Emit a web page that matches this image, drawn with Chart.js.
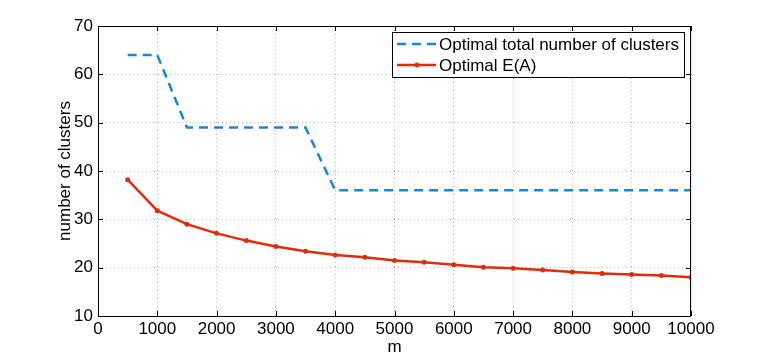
<!DOCTYPE html>
<html>
<head>
<meta charset="utf-8">
<script src="https://cdn.jsdelivr.net/npm/chart.js@4.4.0/dist/chart.umd.min.js"></script>
<style>
  html, body { margin: 0; padding: 0; background: #fff; }
  #wrap { width: 763px; height: 358px; }
</style>
</head>
<body>
<div id="wrap"><canvas id="c" width="763" height="358"></canvas></div>
<script>
const mValues = [500, 1000, 1500, 2000, 2500, 3000, 3500, 4000, 4500, 5000,
                 5500, 6000, 6500, 7000, 7500, 8000, 8500, 9000, 9500, 10000];
const totalClusters = [64, 64, 49, 49, 49, 49, 49, 36, 36, 36,
                       36, 36, 36, 36, 36, 36, 36, 36, 36, 36];
const optimalEA = [38.2, 31.8, 29.0, 27.1, 25.6, 24.4, 23.4, 22.6, 22.15, 21.5,
                   21.1, 20.6, 20.1, 19.9, 19.5, 19.1, 18.8, 18.6, 18.4, 18.0];
const seriesLabels = ['Optimal total number of clusters', 'Optimal E(A)'];
const xTitle = 'm';
const yTitle = 'number of clusters';

const FONT = "'Liberation Sans', Arial, Helvetica, sans-serif";
const FS = 17;
const BLUE = '#1787d0';
const RED = '#dc2e0c';

// box round the plot, MATLAB style ticks pointing inward
const frame = {
  id: 'frame',
  afterDraw(chart) {
    const { ctx, chartArea: a, scales } = chart;
    ctx.save();
    ctx.strokeStyle = '#000';
    ctx.lineWidth = 1;
    ctx.strokeRect(a.left + 0.5, a.top + 0.5, a.right - a.left - 1, a.bottom - a.top);
    const len = 5;
    ctx.beginPath();
    scales.x.ticks.forEach(t => {
      const x = Math.round(scales.x.getPixelForValue(t.value)) + 0.5;
      ctx.moveTo(x, a.bottom); ctx.lineTo(x, a.bottom - len);
      ctx.moveTo(x, a.top); ctx.lineTo(x, a.top + len);
    });
    scales.y.ticks.forEach(t => {
      const y = Math.round(scales.y.getPixelForValue(t.value)) + 0.5;
      ctx.moveTo(a.left, y); ctx.lineTo(a.left + len, y);
      ctx.moveTo(a.right, y); ctx.lineTo(a.right - len, y);
    });
    ctx.stroke();
    ctx.restore();
  }
};

// legend box inside the axes, top right
const boxLegend = {
  id: 'boxLegend',
  afterDraw(chart) {
    const { ctx } = chart;
    const x0 = 392, y0 = 32, w = 292, h = 45;
    ctx.save();
    ctx.fillStyle = '#fff';
    ctx.fillRect(x0, y0, w, h);
    ctx.strokeStyle = '#000';
    ctx.lineWidth = 1;
    ctx.strokeRect(x0 + 0.5, y0 + 0.5, w, h);
    ctx.font = FS + 'px ' + FONT;
    ctx.textBaseline = 'middle';
    chart.data.datasets.forEach((ds, i) => {
      const y = y0 + 12 + i * 21;
      ctx.strokeStyle = ds.borderColor;
      ctx.lineWidth = ds.borderWidth;
      ctx.setLineDash(ds.borderDash || []);
      ctx.beginPath();
      ctx.moveTo(x0 + 5, y);
      ctx.lineTo(x0 + 44, y);
      ctx.stroke();
      ctx.setLineDash([]);
      if (ds.pointRadius > 0) {
        ctx.fillStyle = ds.borderColor;
        ctx.beginPath();
        ctx.arc(x0 + 25, y, ds.pointRadius, 0, Math.PI * 2);
        ctx.fill();
      }
      ctx.fillStyle = '#000';
      ctx.fillText(ds.label, x0 + 47, y + 1);
    });
    ctx.restore();
  }
};

new Chart(document.getElementById('c'), {
  type: 'line',
  data: {
    labels: mValues,
    datasets: [{
      label: seriesLabels[0],
      data: mValues.map((m, i) => ({ x: m, y: totalClusters[i] })),
      borderColor: BLUE,
      borderWidth: 2.5,
      borderDash: [9, 6],
      pointRadius: 0,
      fill: false,
      tension: 0,
    }, {
      label: seriesLabels[1],
      data: mValues.map((m, i) => ({ x: m, y: optimalEA[i] })),
      borderColor: RED,
      backgroundColor: RED,
      borderWidth: 2.5,
      pointRadius: 2.5,
      pointBackgroundColor: RED,
      pointBorderWidth: 0,
      fill: false,
      tension: 0,
    }]
  },
  options: {
    responsive: false,
    animation: false,
    events: [],
    layout: { padding: { left: 0, top: 26, right: 72, bottom: 0 } },
    plugins: {
      legend: { display: false },
      tooltip: { enabled: false }
    },
    scales: {
      x: {
        type: 'linear',
        min: 0,
        max: 10000,
        afterFit(s) { s.height = 42; },
        afterBuildTicks(s) {
          s.ticks = [];
          for (let v = 0; v <= 10000; v += 1000) s.ticks.push({ value: v });
        },
        grid: {
          color: '#b0b0b0',
          drawTicks: false,
        },
        border: { display: false, dash: [1, 3] },
        ticks: {
          color: '#000',
          padding: 3,
          maxRotation: 0,
          autoSkip: false,
          font: { size: FS, family: FONT },
          callback: v => String(v),
        },
        title: {
          display: true,
          text: xTitle,
          color: '#000',
          font: { size: FS, family: FONT },
          padding: { top: 0, bottom: 0 },
        }
      },
      y: {
        min: 10,
        max: 70,
        afterFit(s) { s.width = 98; },
        grid: {
          color: '#b0b0b0',
          drawTicks: false,
        },
        border: { display: false, dash: [1, 3] },
        ticks: {
          color: '#000',
          stepSize: 10,
          padding: 5,
          font: { size: FS, family: FONT },
          callback: v => String(v),
        },
        title: {
          display: true,
          text: yTitle,
          color: '#000',
          font: { size: FS, family: FONT },
          padding: { top: 55, bottom: 0 },
        }
      }
    }
  },
  plugins: [frame, boxLegend]
});
</script>
</body>
</html>
